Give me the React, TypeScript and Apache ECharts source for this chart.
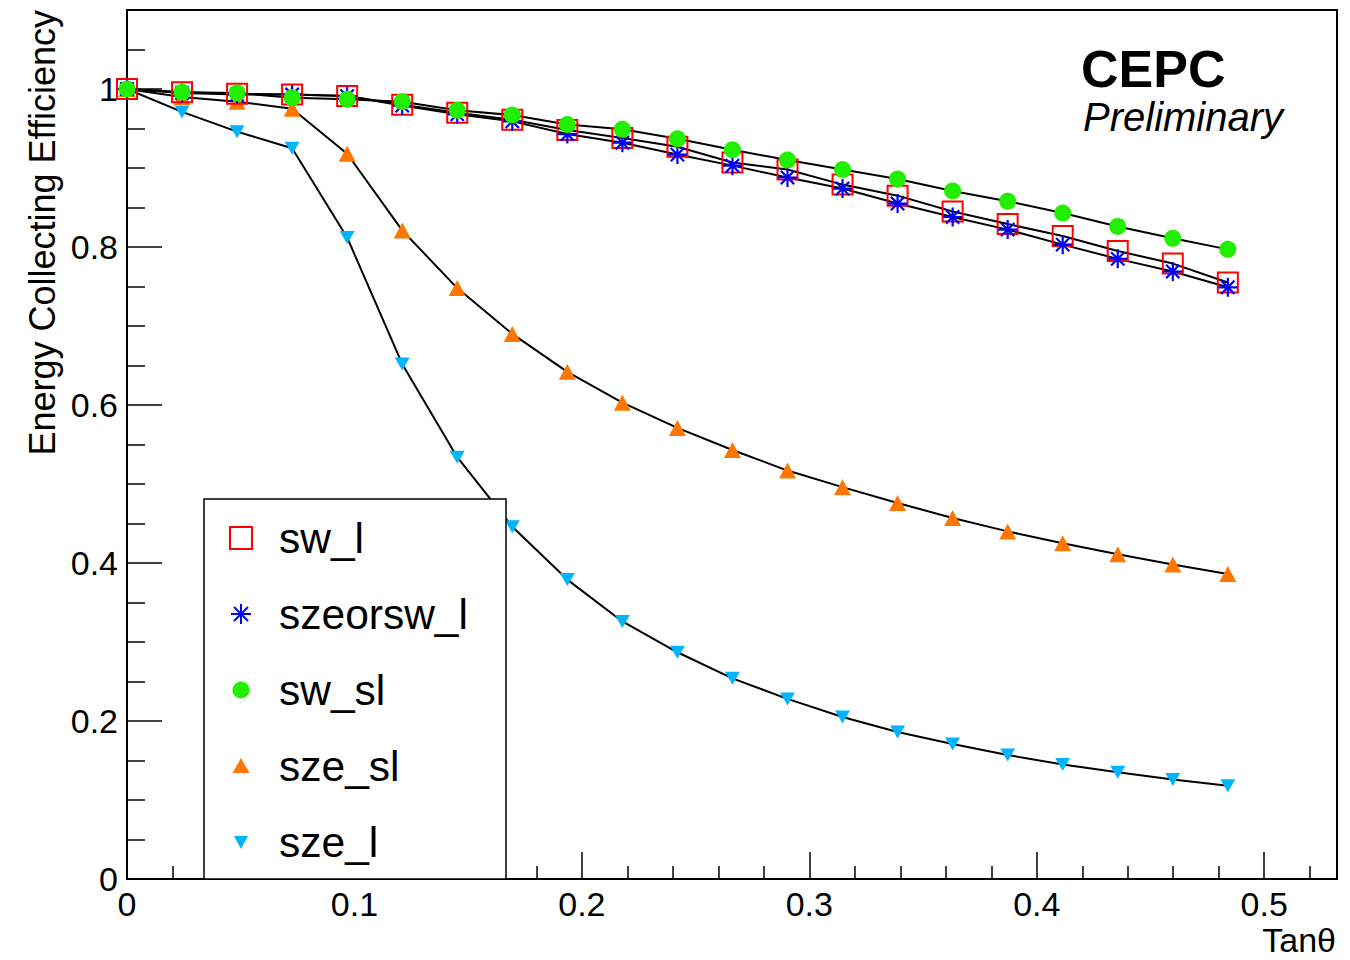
import React, { useEffect, useRef } from 'react';
import * as echarts from 'echarts';

// Tan(theta) sample positions
const tanTheta = [0, 0.0242, 0.0484, 0.0726, 0.0968, 0.121, 0.1452, 0.1694, 0.1936, 0.2178, 0.242, 0.2662, 0.2904, 0.3146, 0.3388, 0.363, 0.3872, 0.4114, 0.4356, 0.4598, 0.484];

// Energy collecting efficiency per configuration
const swL = [1.0, 0.996, 0.994, 0.993, 0.991, 0.98, 0.97, 0.961, 0.948, 0.938, 0.927, 0.907, 0.898, 0.879, 0.865, 0.845, 0.829, 0.814, 0.795, 0.779, 0.755];
const szeorswL = [1.0, 0.995, 0.993, 0.993, 0.991, 0.979, 0.968, 0.959, 0.943, 0.932, 0.917, 0.903, 0.888, 0.874, 0.855, 0.838, 0.822, 0.803, 0.785, 0.769, 0.749];
const swSl = [1.0, 0.996, 0.995, 0.989, 0.987, 0.984, 0.973, 0.967, 0.955, 0.949, 0.937, 0.923, 0.91, 0.898, 0.886, 0.871, 0.858, 0.843, 0.826, 0.811, 0.797];
const szeSl = [1.0, 0.99, 0.984, 0.975, 0.918, 0.821, 0.748, 0.69, 0.642, 0.603, 0.571, 0.543, 0.517, 0.496, 0.476, 0.457, 0.44, 0.425, 0.411, 0.398, 0.386];
const szeL = [1.0, 0.971, 0.946, 0.925, 0.812, 0.652, 0.534, 0.446, 0.379, 0.326, 0.287, 0.254, 0.228, 0.205, 0.186, 0.171, 0.157, 0.145, 0.135, 0.126, 0.118];

const seriesNames = ['sw_l', 'szeorsw_l', 'sw_sl', 'sze_sl', 'sze_l'];

const xMax = 0.532;
const yMax = 1.1;

const FONT = '"Liberation Sans", Arial, Helvetica, sans-serif';
const RED = '#ff0000';
const BLUE = '#0000ff';
const GREEN = '#22ee00';
const ORANGE = '#ff7700';
const CYAN = '#00b4ff';

export default function App() {
  const ref = useRef<HTMLDivElement>(null);

  useEffect(() => {
    const chart = echarts.init(ref.current!, null, { renderer: 'svg' });
    const pts = (ys: number[]) => tanTheta.map((x, i) => [x, ys[i]]);
    const star = 'path://M10,0L10,20M0,10L20,10M3,3L17,17M3,17L17,3';
    const line = { color: '#000', width: 2 };

    const fmt = (v: number, maxShown: number) => {
      const r = Math.round(v * 10) / 10;
      if (Math.abs(v - r) > 1e-6 || r > maxShown + 1e-9) return '';
      if (r === 0) return '0';
      if (r === 1) return '1';
      return r.toFixed(1);
    };

    // legend layout
    const lgX = 204, lgY = 499, lgW = 302, lgH = 380;
    const mx = 241, tx = 279;
    const rowY = [538, 614, 690, 766, 842];
    const legendText = seriesNames.map((n, i) => ({
      type: 'text', z: 12,
      x: tx, y: rowY[i],
      style: { text: n, fill: '#000', fontSize: 42.5, fontFamily: FONT, align: 'left', verticalAlign: 'middle', textAlign: 'left', textVerticalAlign: 'middle' },
    }));
    const s = 10;
    const sy = rowY[1];
    const legendMarkers: any[] = [
      { type: 'rect', z: 12, shape: { x: mx - 11, y: rowY[0] - 11, width: 22, height: 22 }, style: { fill: 'none', stroke: RED, lineWidth: 2 } },
      { type: 'line', z: 12, shape: { x1: mx, y1: sy - s, x2: mx, y2: sy + s }, style: { stroke: BLUE, lineWidth: 2 } },
      { type: 'line', z: 12, shape: { x1: mx - s, y1: sy, x2: mx + s, y2: sy }, style: { stroke: BLUE, lineWidth: 2 } },
      { type: 'line', z: 12, shape: { x1: mx - 7, y1: sy - 7, x2: mx + 7, y2: sy + 7 }, style: { stroke: BLUE, lineWidth: 2 } },
      { type: 'line', z: 12, shape: { x1: mx - 7, y1: sy + 7, x2: mx + 7, y2: sy - 7 }, style: { stroke: BLUE, lineWidth: 2 } },
      { type: 'circle', z: 12, shape: { cx: mx, cy: rowY[2], r: 8.5 }, style: { fill: GREEN } },
      { type: 'polygon', z: 12, shape: { points: [[mx, rowY[3] - 8], [mx + 8.5, rowY[3] + 7], [mx - 8.5, rowY[3] + 7]] }, style: { fill: ORANGE } },
      { type: 'polygon', z: 12, shape: { points: [[mx - 7, rowY[4] - 6], [mx + 7, rowY[4] - 6], [mx, rowY[4] + 7]] }, style: { fill: CYAN } },
    ];

    // drawing order follows the reference (large-angle curves first, green on top)
    const sSzeL = { name: seriesNames[4], type: 'line', data: pts(szeL), symbol: 'triangle', symbolRotate: 180, symbolSize: [15, 13], showAllSymbol: true, silent: true, lineStyle: line, itemStyle: { color: CYAN, borderWidth: 0 }, emphasis: { disabled: true } };
    const sSzeSl = { name: seriesNames[3], type: 'line', data: pts(szeSl), symbol: 'triangle', symbolSize: [17, 16], showAllSymbol: true, silent: true, lineStyle: line, itemStyle: { color: ORANGE, borderWidth: 0 }, emphasis: { disabled: true } };
    const sSwL = { name: seriesNames[0], type: 'line', data: pts(swL), symbol: 'rect', symbolSize: 20, showAllSymbol: true, silent: true, lineStyle: line, itemStyle: { color: 'rgba(0,0,0,0)', borderColor: RED, borderWidth: 2 }, emphasis: { disabled: true } };
    const sSzeor = { name: seriesNames[1], type: 'line', data: pts(szeorswL), symbol: star, symbolSize: 19, showAllSymbol: true, silent: true, lineStyle: line, itemStyle: { color: 'rgba(0,0,0,0)', borderColor: BLUE, borderWidth: 2.2 }, emphasis: { disabled: true } };
    const sSwSl = { name: seriesNames[2], type: 'line', data: pts(swSl), symbol: 'circle', symbolSize: 17, showAllSymbol: true, silent: true, lineStyle: line, itemStyle: { color: GREEN, borderWidth: 0 }, emphasis: { disabled: true } };

    chart.setOption({
      animation: false,
      backgroundColor: '#fff',
      grid: { left: 127, top: 10, right: 13, bottom: 81, show: true, borderColor: '#000', borderWidth: 2, backgroundColor: 'transparent' },
      xAxis: {
        type: 'value', min: 0, max: xMax, interval: 0.1,
        axisLine: { show: true, onZero: false, lineStyle: { color: '#000', width: 2 } },
        axisTick: { show: true, inside: true, length: 27, lineStyle: { color: '#000', width: 1.5 } },
        minorTick: { show: true, splitNumber: 5, length: 13, lineStyle: { color: '#000', width: 1.5 } },
        splitLine: { show: false },
        axisLabel: { color: '#000', fontSize: 34, fontFamily: FONT, margin: 8, formatter: (v: number) => fmt(v, 0.5), showMaxLabel: true, showMinLabel: true },
      },
      yAxis: {
        type: 'value', min: 0, max: yMax, interval: 0.2,
        axisLine: { show: true, onZero: false, lineStyle: { color: '#000', width: 2 } },
        axisTick: { show: true, inside: true, length: 35, lineStyle: { color: '#000', width: 1.5 } },
        minorTick: { show: true, splitNumber: 4, length: 18, lineStyle: { color: '#000', width: 1.5 } },
        splitLine: { show: false },
        axisLabel: { color: '#000', fontSize: 34, fontFamily: FONT, margin: 9, formatter: (v: number) => fmt(v, 1.0) },
      },
      series: [sSzeL, sSzeSl, sSwL, sSzeor, sSwSl],
      graphic: [
        {
          type: 'text', z: 12, x: 42, y: 10, rotation: Math.PI / 2,
          style: { text: 'Energy Collecting Efficiency', fill: '#000', fontSize: 36, fontFamily: FONT, align: 'right', verticalAlign: 'middle', textAlign: 'right', textVerticalAlign: 'middle' },
        },
        {
          type: 'text', z: 12, x: 1336, y: 940,
          style: { text: 'Tanθ', fill: '#000', fontSize: 34, fontFamily: FONT, align: 'right', verticalAlign: 'middle', textAlign: 'right', textVerticalAlign: 'middle' },
        },
        {
          type: 'text', z: 12, x: 1081, y: 69,
          style: { text: 'CEPC', fill: '#000', fontSize: 52, fontWeight: 'bold', fontFamily: FONT, align: 'left', verticalAlign: 'middle', textAlign: 'left', textVerticalAlign: 'middle' },
        },
        {
          type: 'text', z: 12, x: 1083, y: 117,
          style: { text: 'Preliminary', fill: '#000', fontSize: 40, fontStyle: 'italic', fontFamily: FONT, align: 'left', verticalAlign: 'middle', textAlign: 'left', textVerticalAlign: 'middle' },
        },
        { type: 'rect', z: 11, shape: { x: lgX, y: lgY, width: lgW, height: lgH }, style: { fill: '#fff', stroke: '#000', lineWidth: 1.5 } },
        ...legendMarkers,
        ...legendText,
      ],
    });

    return () => chart.dispose();
  }, []);

  return <div ref={ref} style={{ position: 'fixed', left: 0, top: 0, width: 1350, height: 960, background: '#fff' }} />;
}
